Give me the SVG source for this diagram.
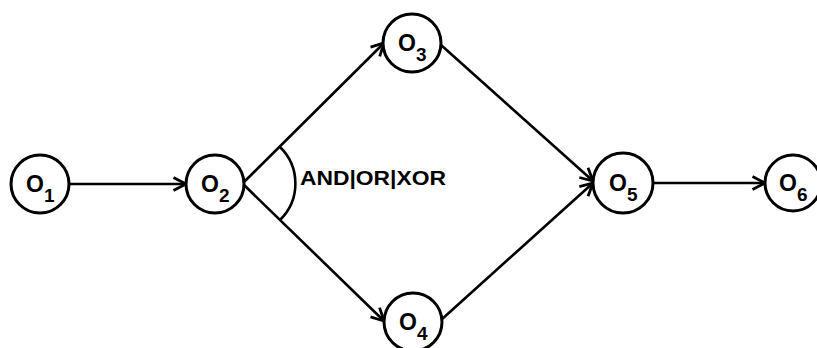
<svg xmlns="http://www.w3.org/2000/svg" width="817" height="348" viewBox="0 0 817 348">
<style>
.n{fill:#fff;stroke:#000;stroke-width:3}
.e{fill:none;stroke:#000;stroke-width:2.6}
.t{font-family:"Liberation Sans",Arial,sans-serif;font-size:23px;font-weight:bold;fill:#000}
.s{font-size:19px}
.l{font-family:"Liberation Sans",Arial,sans-serif;font-size:20px;font-weight:bold;fill:#000}
</style>
<defs>
<marker id="a" viewBox="0 0 16 16" refX="14.5" refY="8" markerWidth="16" markerHeight="16" markerUnits="userSpaceOnUse" orient="auto">
<path d="M2,1.5 L14.5,8 L2,14.5" fill="none" stroke="#000" stroke-width="2.8" stroke-linejoin="miter"/>
</marker>
</defs>
<rect width="817" height="348" fill="#fff"/>
<g id="connectors">
<line class="e" x1="69" y1="184" x2="186" y2="184" marker-end="url(#a)"/>
<line class="e" x1="243" y1="183" x2="384" y2="43" marker-end="url(#a)"/>
<line class="e" x1="243" y1="184" x2="384" y2="321" marker-end="url(#a)"/>
<line class="e" x1="441" y1="45" x2="593" y2="181" marker-end="url(#a)"/>
<line class="e" x1="441" y1="320" x2="593" y2="183" marker-end="url(#a)"/>
<line class="e" x1="652" y1="183" x2="765" y2="183" marker-end="url(#a)"/>
<path class="e" d="M280,147 A51,51 0 0 1 280,220"/>
<text class="l" x="300" y="185" textLength="146" lengthAdjust="spacingAndGlyphs">AND|OR|XOR</text>
</g>
<g id="O1"><circle class="n" cx="40" cy="184" r="29"/><text class="t" x="26" y="192">O<tspan class="s" dy="10">1</tspan></text></g>
<g id="O2"><circle class="n" cx="215" cy="184" r="29"/><text class="t" x="201" y="192">O<tspan class="s" dy="10">2</tspan></text></g>
<g id="O3"><circle class="n" cx="412" cy="43" r="29"/><text class="t" x="398" y="51">O<tspan class="s" dy="10">3</tspan></text></g>
<g id="O4"><circle class="n" cx="413" cy="322" r="29"/><text class="t" x="399" y="330">O<tspan class="s" dy="10">4</tspan></text></g>
<g id="O5"><circle class="n" cx="623" cy="183" r="30"/><text class="t" x="609" y="191">O<tspan class="s" dy="10">5</tspan></text></g>
<g id="O6"><circle class="n" cx="793" cy="183" r="28"/><text class="t" x="779" y="191">O<tspan class="s" dy="10">6</tspan></text></g>
</svg>
